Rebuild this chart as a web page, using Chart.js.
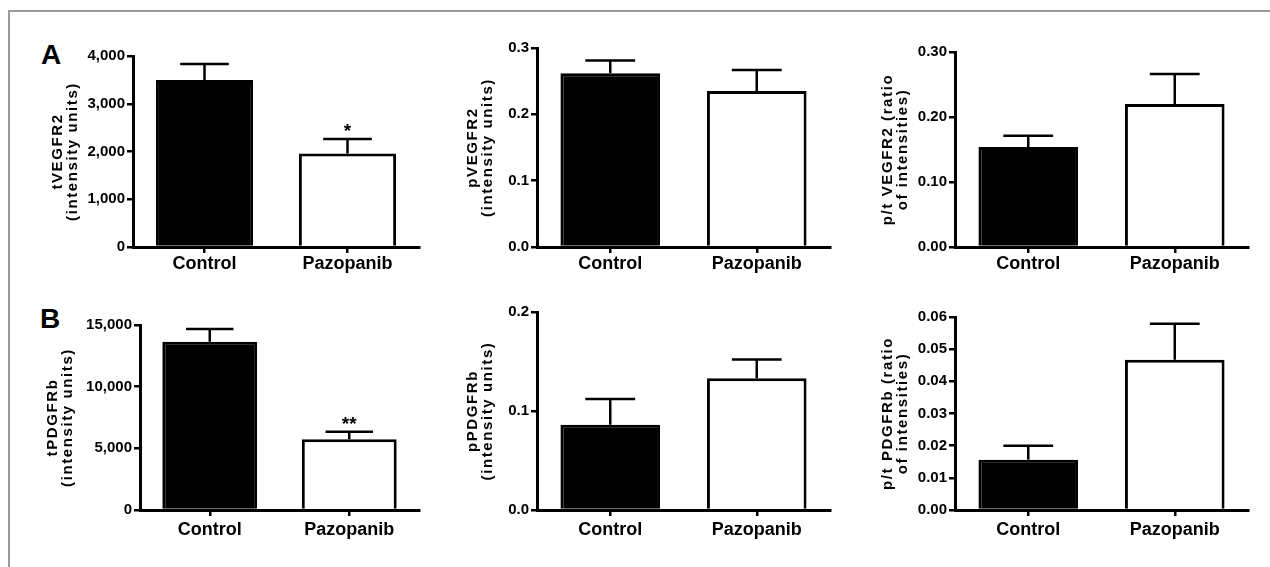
<!DOCTYPE html>
<html><head><meta charset="utf-8">
<script src="https://cdn.jsdelivr.net/npm/chart.js@4.4.1/dist/chart.umd.min.js"></script>
<style>
html,body{margin:0;padding:0;background:#fff;width:1270px;height:567px;overflow:hidden;}
#frame{position:absolute;left:8px;top:10px;width:1262px;height:557px;border-top:2px solid #9b9b9b;border-left:2px solid #9b9b9b;box-sizing:border-box;}
canvas{position:absolute;}
.letter{position:absolute;font:bold 28px/28px "Liberation Sans",Arial,sans-serif;color:#000;}
</style></head><body>
<div id="frame"></div>
<div class="letter" style="left:41px;top:41px">A</div>
<div class="letter" style="left:40px;top:305px">B</div>
<canvas id="c1"></canvas><canvas id="c2"></canvas><canvas id="c3"></canvas>
<canvas id="c4"></canvas><canvas id="c5"></canvas><canvas id="c6"></canvas>
<script>
// ---- data ----
const categories = ['Control', 'Pazopanib'];

const tVEGFR2 = [3500, 1960];
const tVEGFR2Err = [330, 300];
const tVEGFR2Stars = ['', '*'];

const pVEGFR2 = [0.262, 0.235];
const pVEGFR2Err = [0.019, 0.032];

const ptVEGFR2 = [0.154, 0.220];
const ptVEGFR2Err = [0.017, 0.046];

const tPDGFRb = [13640, 5730];
const tPDGFRbErr = [1040, 620];
const tPDGFRbStars = ['', '**'];

const pPDGFRb = [0.086, 0.133];
const pPDGFRbErr = [0.026, 0.019];

const ptPDGFRb = [0.0156, 0.0467];
const ptPDGFRbErr = [0.0044, 0.0112];

const noStars = ['', ''];

const yTitles = [
  ['tVEGFR2', '(intensity units)'],
  ['pVEGFR2', '(intensity units)'],
  ['p/t VEGFR2 (ratio', 'of intensities)'],
  ['tPDGFRb', '(intensity units)'],
  ['pPDGFRb', '(intensity units)'],
  ['p/t PDGFRb (ratio', 'of intensities)']
];
const yMax = [4000, 0.3, 0.3, 15000, 0.2, 0.06];
const yStep = [1000, 0.1, 0.1, 5000, 0.1, 0.01];
const yDecimals = [null, 1, 2, null, 1, 2];

// ---- layout (positions only) ----
const boxes = [
  {left:33,  top:41,  width:396, height:251, titlePad:17, xPad:0},
  {left:437, top:33,  width:403, height:259, titlePad:28, xPad:0},
  {left:855, top:37,  width:403, height:255, titlePad:25, xPad:0},
  {left:40,  top:310, width:389, height:245, titlePad:5,  xPad:3},
  {left:437, top:297, width:403, height:258, titlePad:28, xPad:3},
  {left:855, top:302, width:403, height:253, titlePad:25, xPad:3}
];

const FONT = '"Liberation Sans", Arial, Helvetica, sans-serif';
Chart.defaults.font.family = FONT;

const errorBarPlugin = {
  id: 'errorBarsDraw',
  afterDatasetsDraw(chart) {
    const ds = chart.data.datasets[0];
    const meta = chart.getDatasetMeta(0);
    const ys = chart.scales.y;
    const ctx = chart.ctx;
    ctx.save();
    ctx.strokeStyle = '#000';
    ctx.lineWidth = 2.5;
    meta.data.forEach((bar, i) => {
      const v = ds.data[i];
      const top = ys.getPixelForValue(v + ds.errors[i]);
      const base = ys.getPixelForValue(v);
      const half = bar.width * 0.25;
      ctx.beginPath();
      ctx.moveTo(bar.x, base);
      ctx.lineTo(bar.x, top);
      ctx.moveTo(bar.x - half, top);
      ctx.lineTo(bar.x + half, top);
      ctx.stroke();
      if (ds.stars && ds.stars[i]) {
        ctx.fillStyle = '#000';
        ctx.font = 'bold 19px ' + FONT;
        ctx.textAlign = 'center';
        ctx.textBaseline = 'alphabetic';
        ctx.fillText(ds.stars[i], bar.x, top - 2);
      }
    });
    ctx.restore();
  }
};

const titleSpacingPlugin = {
  id: 'titleSpacing',
  beforeDraw(chart) {
    Object.values(chart.scales).forEach(s => {
      if (s._lsPatched) return;
      const orig = s.drawTitle;
      s.drawTitle = function () {
        const c = this.ctx;
        const prev = c.letterSpacing;
        c.letterSpacing = '1.6px';
        orig.apply(this, arguments);
        c.letterSpacing = prev === undefined ? '0px' : prev;
      };
      s._lsPatched = true;
    });
  }
};

const panelData = [
  [tVEGFR2, tVEGFR2Err, tVEGFR2Stars],
  [pVEGFR2, pVEGFR2Err, noStars],
  [ptVEGFR2, ptVEGFR2Err, noStars],
  [tPDGFRb, tPDGFRbErr, tPDGFRbStars],
  [pPDGFRb, pPDGFRbErr, noStars],
  [ptPDGFRb, ptPDGFRbErr, noStars]
];

panelData.forEach((pd, k) => {
  const b = boxes[k];
  const cv = document.getElementById('c' + (k + 1));
  cv.width = b.width; cv.height = b.height;
  cv.style.left = b.left + 'px'; cv.style.top = b.top + 'px';
  cv.style.width = b.width + 'px'; cv.style.height = b.height + 'px';
  const dec = yDecimals[k];
  const gridOpts = {drawOnChartArea:false, drawTicks:true, tickLength:6, lineWidth:2.5, tickWidth:2.5, color:'#000', tickColor:'#000'};
  new Chart(cv, {
    type: 'bar',
    data: {
      labels: categories,
      datasets: [{
        data: pd[0], errors: pd[1], stars: pd[2],
        backgroundColor: ['#000', '#fff'], borderColor: '#000', borderWidth: 3,
        barPercentage: 0.68, categoryPercentage: 1.0
      }]
    },
    options: {
      responsive: false, animation: false, events: [], devicePixelRatio: 1,
      layout: {padding: {top: 15, right: 10, left: 0, bottom: 0}},
      plugins: {legend: {display: false}, tooltip: {enabled: false}},
      scales: {
        x: {
          type: 'category', offset: true,
          grid: Object.assign({offset: false}, gridOpts),
          border: {display: true, color: '#000', width: 3},
          ticks: {color: '#000', font: {size: 18, weight: 'bold', lineHeight: 1.2}, padding: b.xPad, maxRotation: 0, autoSkip: false},
          afterFit: s => { s.height = 45; }
        },
        y: {
          min: 0, max: yMax[k],
          grid: gridOpts,
          border: {display: true, color: '#000', width: 3},
          ticks: {
            stepSize: yStep[k], color: '#000', padding: 2,
            font: {size: 15, weight: 'bold'},
            callback: v => dec == null ? Math.round(v).toLocaleString('en-US') : Number(v).toFixed(dec)
          },
          title: {display: true, text: yTitles[k], color: '#000',
                  font: {size: 15, weight: 'bold', lineHeight: 1.0},
                  padding: {top: b.titlePad, bottom: 0}},
          afterFit: s => { s.width = 100; }
        }
      }
    },
    plugins: [errorBarPlugin, titleSpacingPlugin]
  });
});
</script>
</body></html>
